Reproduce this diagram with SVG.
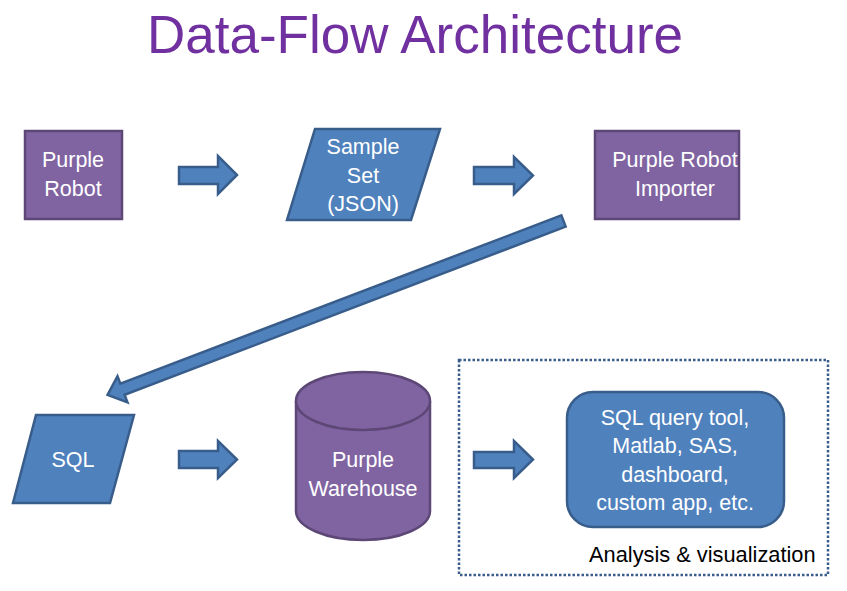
<svg xmlns="http://www.w3.org/2000/svg" width="847" height="591" viewBox="0 0 847 591">
<style>
.purple{fill:#8064A2;stroke:#5C4776;stroke-width:2.5}
.blue{fill:#4F81BD;stroke:#385D8A;stroke-width:2.5}
.arrow{fill:#4F81BD;stroke:#385D8A;stroke-width:2.5;stroke-linejoin:miter}
.lbl{font-family:"Liberation Sans",Arial,sans-serif;font-size:21.5px;fill:#FFFFFF;text-anchor:middle}
.title{font-family:"Liberation Sans",Arial,sans-serif;font-size:53px;fill:#7030A0;text-anchor:middle}
.note{font-family:"Liberation Sans",Arial,sans-serif;font-size:21.8px;fill:#000000}
</style>
<rect width="847" height="591" fill="#FFFFFF"/>
<text class="title" x="415" y="53">Data-Flow Architecture</text>

<g id="analysis-group">
<rect x="459" y="360" width="369" height="215" fill="none" stroke="#385D8A" stroke-width="2.5" stroke-dasharray="2.5,2"/>
<text class="note" x="589" y="562">Analysis &amp; visualization</text>
</g>

<g id="purple-robot">
<rect class="purple" x="25" y="131" width="97" height="88"/>
<text class="lbl" x="73" y="167">Purple</text>
<text class="lbl" x="73" y="196">Robot</text>
</g>

<g id="sample-set">
<polygon class="blue" points="315,129 440,129 411,220 287,220"/>
<text class="lbl" x="363" y="154">Sample</text>
<text class="lbl" x="363" y="183">Set</text>
<text class="lbl" x="363" y="211">(JSON)</text>
</g>

<g id="importer">
<rect class="purple" x="595" y="131" width="144" height="88"/>
<text class="lbl" x="675" y="167">Purple Robot</text>
<text class="lbl" x="675" y="196">Importer</text>
</g>

<g id="sql">
<polygon class="blue" points="36,415 134,415 110,503 13,503"/>
<text class="lbl" x="73" y="467">SQL</text>
</g>

<g id="warehouse">
<path class="purple" d="M296,401 L296,511 A67,29 0 0 0 430,511 L430,401 A67,29 0 0 0 296,401 Z"/>
<path class="purple" d="M296,401 A67,29 0 0 0 430,401"/>
<text class="lbl" x="363" y="467">Purple</text>
<text class="lbl" x="363" y="496">Warehouse</text>
</g>

<g id="tools">
<rect class="blue" x="567" y="392" width="217" height="135" rx="26" ry="26"/>
<text class="lbl" x="675" y="425">SQL query tool,</text>
<text class="lbl" x="675" y="453">Matlab, SAS,</text>
<text class="lbl" x="675" y="482">dashboard,</text>
<text class="lbl" x="675" y="510">custom app, etc.</text>
</g>

<g id="connectors">
<polygon class="arrow" points="179,167 218,167 218,156 237,175 218,194 218,184 179,184"/>
<polygon class="arrow" points="474,167 514,167 514,157 533,175.5 514,194 514,184 474,184"/>
<polygon class="arrow" points="179,451 218,451 218,441 237,459.5 218,478 218,468 179,468"/>
<polygon class="arrow" points="474,452 514,452 514,441 533,459.5 514,478 514,468 474,468"/>
<polygon class="arrow" transform="translate(563.5,221) rotate(159.12)" points="0,-6 472,-6 472,-14 488,0 472,14 472,6 0,6"/>
</g>
</svg>
